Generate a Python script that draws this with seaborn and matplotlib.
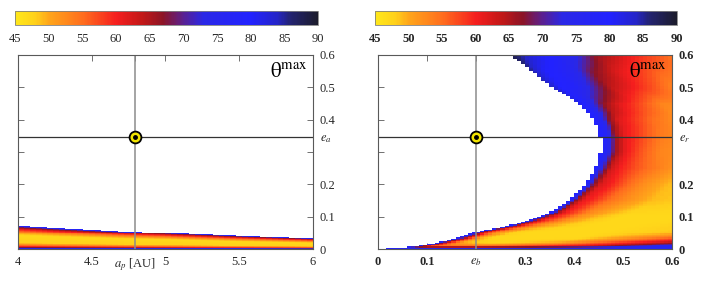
import numpy as np
import matplotlib
matplotlib.use("Agg")
import matplotlib.pyplot as plt
from matplotlib.colors import LinearSegmentedColormap
import seaborn as sns

# colour scale of theta^max (deg)
cbar_ticks = [45, 50, 55, 60, 65, 70, 75, 80, 85, 90]
cmap_levels = [45, 48, 50, 55, 60, 64, 67, 70, 73, 80, 84, 86, 90]
cmap_colors = ["#ffe81a", "#ffd01a", "#ffa51a", "#ff6e1e", "#f51e1e", "#c01818",
               "#8c1426", "#5a2090", "#2a28e6", "#2222ff", "#2424c8", "#232370", "#1c1c2c"]

# left panel: a_p [AU] against e, band of stable orbits near e = 0
left_x = [4.0, 4.25, 4.5, 4.75, 5.0, 5.25, 5.5, 5.75, 6.0]
left_top = [0.073, 0.066, 0.060, 0.054, 0.050, 0.045, 0.040, 0.036, 0.032]
left_v = [0.0, 0.05, 0.1, 0.17, 0.25, 0.55, 0.65, 0.75, 0.85, 0.93, 1.0]  # fraction of band height
left_theta = [82, 70, 60, 53, 48, 47, 50, 55, 61, 68, 80]
a_p = 4.79

# right panel: e_b against e, coloured region right of the boundary
right_yb = [0, 0.005, 0.013, 0.03, 0.052, 0.07, 0.085, 0.11, 0.15, 0.2, 0.25,
            0.3, 0.34, 0.38, 0.42, 0.46, 0.5, 0.55, 0.6]
right_xb = [0, 0.05, 0.1, 0.15, 0.2, 0.26, 0.3, 0.35, 0.39, 0.425, 0.445,
            0.455, 0.455, 0.447, 0.43, 0.40, 0.355, 0.315, 0.27]
right_rows = [0, 0.01, 0.02, 0.035, 0.05, 0.07, 0.1, 0.15, 0.2, 0.25, 0.3,
              0.35, 0.4, 0.45, 0.5, 0.55, 0.6]
right_d = [0, 0.015, 0.03, 0.05, 0.08, 0.12, 0.17, 0.25, 0.35, 0.5, 0.6]  # distance from boundary
right_theta = [
    [80, 80, 80, 80, 80, 80, 80, 80, 80, 79, 78],
    [80, 66, 58, 55, 54, 54, 55, 58, 62, 74, 78],
    [80, 66, 57, 50, 48, 47, 48, 50, 57, 66, 68],
    [80, 68, 58, 50, 47, 47, 47, 47, 51, 58, 60],
    [80, 66, 58, 52, 48, 47, 47, 47, 48, 50, 51],
    [80, 66, 59, 54, 50, 48, 47, 47, 48, 48, 48],
    [80, 65, 60, 57, 52, 49, 47, 47, 47, 47, 47],
    [80, 66, 61, 59, 55, 52, 49, 48, 47, 47, 47],
    [80, 68, 62, 60, 56, 52, 49, 48, 48, 48, 48],
    [80, 70, 63, 60, 57, 54, 51, 50, 50, 50, 50],
    [80, 74, 66, 61, 57, 53, 52, 52, 52, 52, 52],
    [80, 76, 66, 61, 58, 54, 52, 52, 52, 52, 52],
    [80, 77, 68, 62, 59, 55, 52, 52, 52, 52, 52],
    [82, 79, 74, 67, 62, 58, 53, 52, 52, 52, 52],
    [84, 80, 79, 78, 72, 64, 60, 53, 52, 52, 52],
    [85, 82, 80, 79, 76, 68, 62, 56, 52, 52, 52],
    [88, 86, 84, 82, 80, 76, 67, 60, 53, 52, 52],
]
e_b = 0.2
e_line = 0.345

sns.set_theme(style="white")
plt.rcParams["font.family"] = ["Liberation Serif", "DejaVu Serif"]
plt.rcParams["mathtext.fontset"] = "stix"

cmap = LinearSegmentedColormap.from_list(
    "theta", [((l - 45) / 45, c) for l, c in zip(cmap_levels, cmap_colors)])

# left grid
lx0, lx1, lnx, lny = 4.0, 6.0, 50, 200
lxc = lx0 + (np.arange(lnx) + 0.5) * (lx1 - lx0) / lnx
lyc = (np.arange(lny) + 0.5) * 0.6 / lny
vv = lyc[:, None] / np.interp(lxc, left_x, left_top)[None, :]
left_grid = np.interp(vv, left_v, left_theta)
left_grid[vv > 1] = np.nan

# right grid
rnx, rny = 72, 150
rxc = (np.arange(rnx) + 0.5) * 0.6 / rnx
ryc = (np.arange(rny) + 0.5) * 0.6 / rny
tab = np.array(right_theta, dtype=float)
right_grid = np.full((rny, rnx), np.nan)
for j, y in enumerate(ryc):
    d = rxc - np.interp(y, right_yb, right_xb)
    r = np.clip(np.searchsorted(right_rows, y) - 1, 0, len(right_rows) - 2)
    w = (y - right_rows[r]) / (right_rows[r + 1] - right_rows[r])
    row = (1 - w) * np.interp(d, right_d, tab[r]) + w * np.interp(d, right_d, tab[r + 1])
    row[d < 0] = np.nan
    right_grid[j] = row

fig = plt.figure(figsize=(7.17, 2.82), dpi=100)
axL = fig.add_axes([0.0251, 0.117, 0.4114, 0.688])
caxL = fig.add_axes([0.0209, 0.911, 0.4226, 0.0496])
axR = fig.add_axes([0.5272, 0.117, 0.4100, 0.688])
caxR = fig.add_axes([0.5230, 0.911, 0.4210, 0.0496])


def panel(ax, cax, grid, x0, x1, xticks, xlabels, yticks, ylabels, vx, bold):
    ny, nx = grid.shape
    sns.heatmap(grid, ax=ax, cbar_ax=cax, cmap=cmap, vmin=45, vmax=90,
                xticklabels=False, yticklabels=False,
                cbar_kws={"orientation": "horizontal", "ticks": cbar_ticks})
    ax.invert_yaxis()
    fx = lambda v: (np.asarray(v, dtype=float) - x0) / (x1 - x0) * nx
    fy = lambda v: np.asarray(v, dtype=float) / 0.6 * ny
    for s in ax.spines.values():
        s.set_visible(True)
        s.set_color("0.35")
        s.set_linewidth(0.8)
    weight = "bold" if bold else "normal"
    ax.set_xticks(fx(xticks))
    ax.set_xticklabels(xlabels, fontsize=9, fontweight=weight)
    ax.set_yticks(fy(yticks))
    ax.set_yticklabels(ylabels, fontsize=9, fontweight=weight)
    ax.tick_params(direction="in", length=4, width=0.6, color="0.35",
                   top=True, bottom=True, left=True, right=True,
                   labelleft=False, labelright=True, labelbottom=True, labeltop=False)
    ax.tick_params(axis="x", pad=5)
    ax.tick_params(axis="y", pad=5)
    for t in ax.get_yticklabels():
        t.set_horizontalalignment("left")
    ax.axhline(fy(e_line), color="0.2", lw=0.9)
    ax.axvline(fx(vx), color="0.55", lw=1.1)
    ax.plot(fx(vx), fy(e_line), marker="o", ms=8.5, mfc="#f2e400", mec="black", mew=1.3, zorder=5)
    ax.plot(fx(vx), fy(e_line), marker="o", ms=2.5, color="black", zorder=6)
    ax.text(0.98, 0.96, r"$\mathrm{θ}^{\mathrm{max}}$", transform=ax.transAxes,
            ha="right", va="top", fontsize=15, color="black")
    cb = ax.collections[0].colorbar
    cb.outline.set_visible(True)
    cb.outline.set_linewidth(0.6)
    cb.outline.set_edgecolor("0.5")
    cax.tick_params(length=0, labelsize=9, pad=6)
    for t in cax.get_xticklabels():
        t.set_fontweight(weight)


panel(axL, caxL, left_grid, lx0, lx1,
      [4, 4.5, a_p, 5, 5.5, 6], ["4", "4.5", r"$a_p$ [AU]", "5", "5.5", "6"],
      [0, 0.1, 0.2, 0.3, e_line, 0.4, 0.5, 0.6],
      ["0", "0.1", "0.2", "", r"$e_a$", "0.4", "0.5", "0.6"], a_p, False)
panel(axR, caxR, right_grid, 0.0, 0.6,
      [0, 0.1, e_b, 0.3, 0.4, 0.5, 0.6], ["0", "0.1", r"$e_b$", "0.3", "0.4", "0.5", "0.6"],
      [0, 0.1, 0.2, 0.3, e_line, 0.4, 0.5, 0.6],
      ["0", "0.1", "0.2", "", r"$e_r$", "0.4", "0.5", "0.6"], e_b, True)

fig.savefig("out.png", dpi=100)
